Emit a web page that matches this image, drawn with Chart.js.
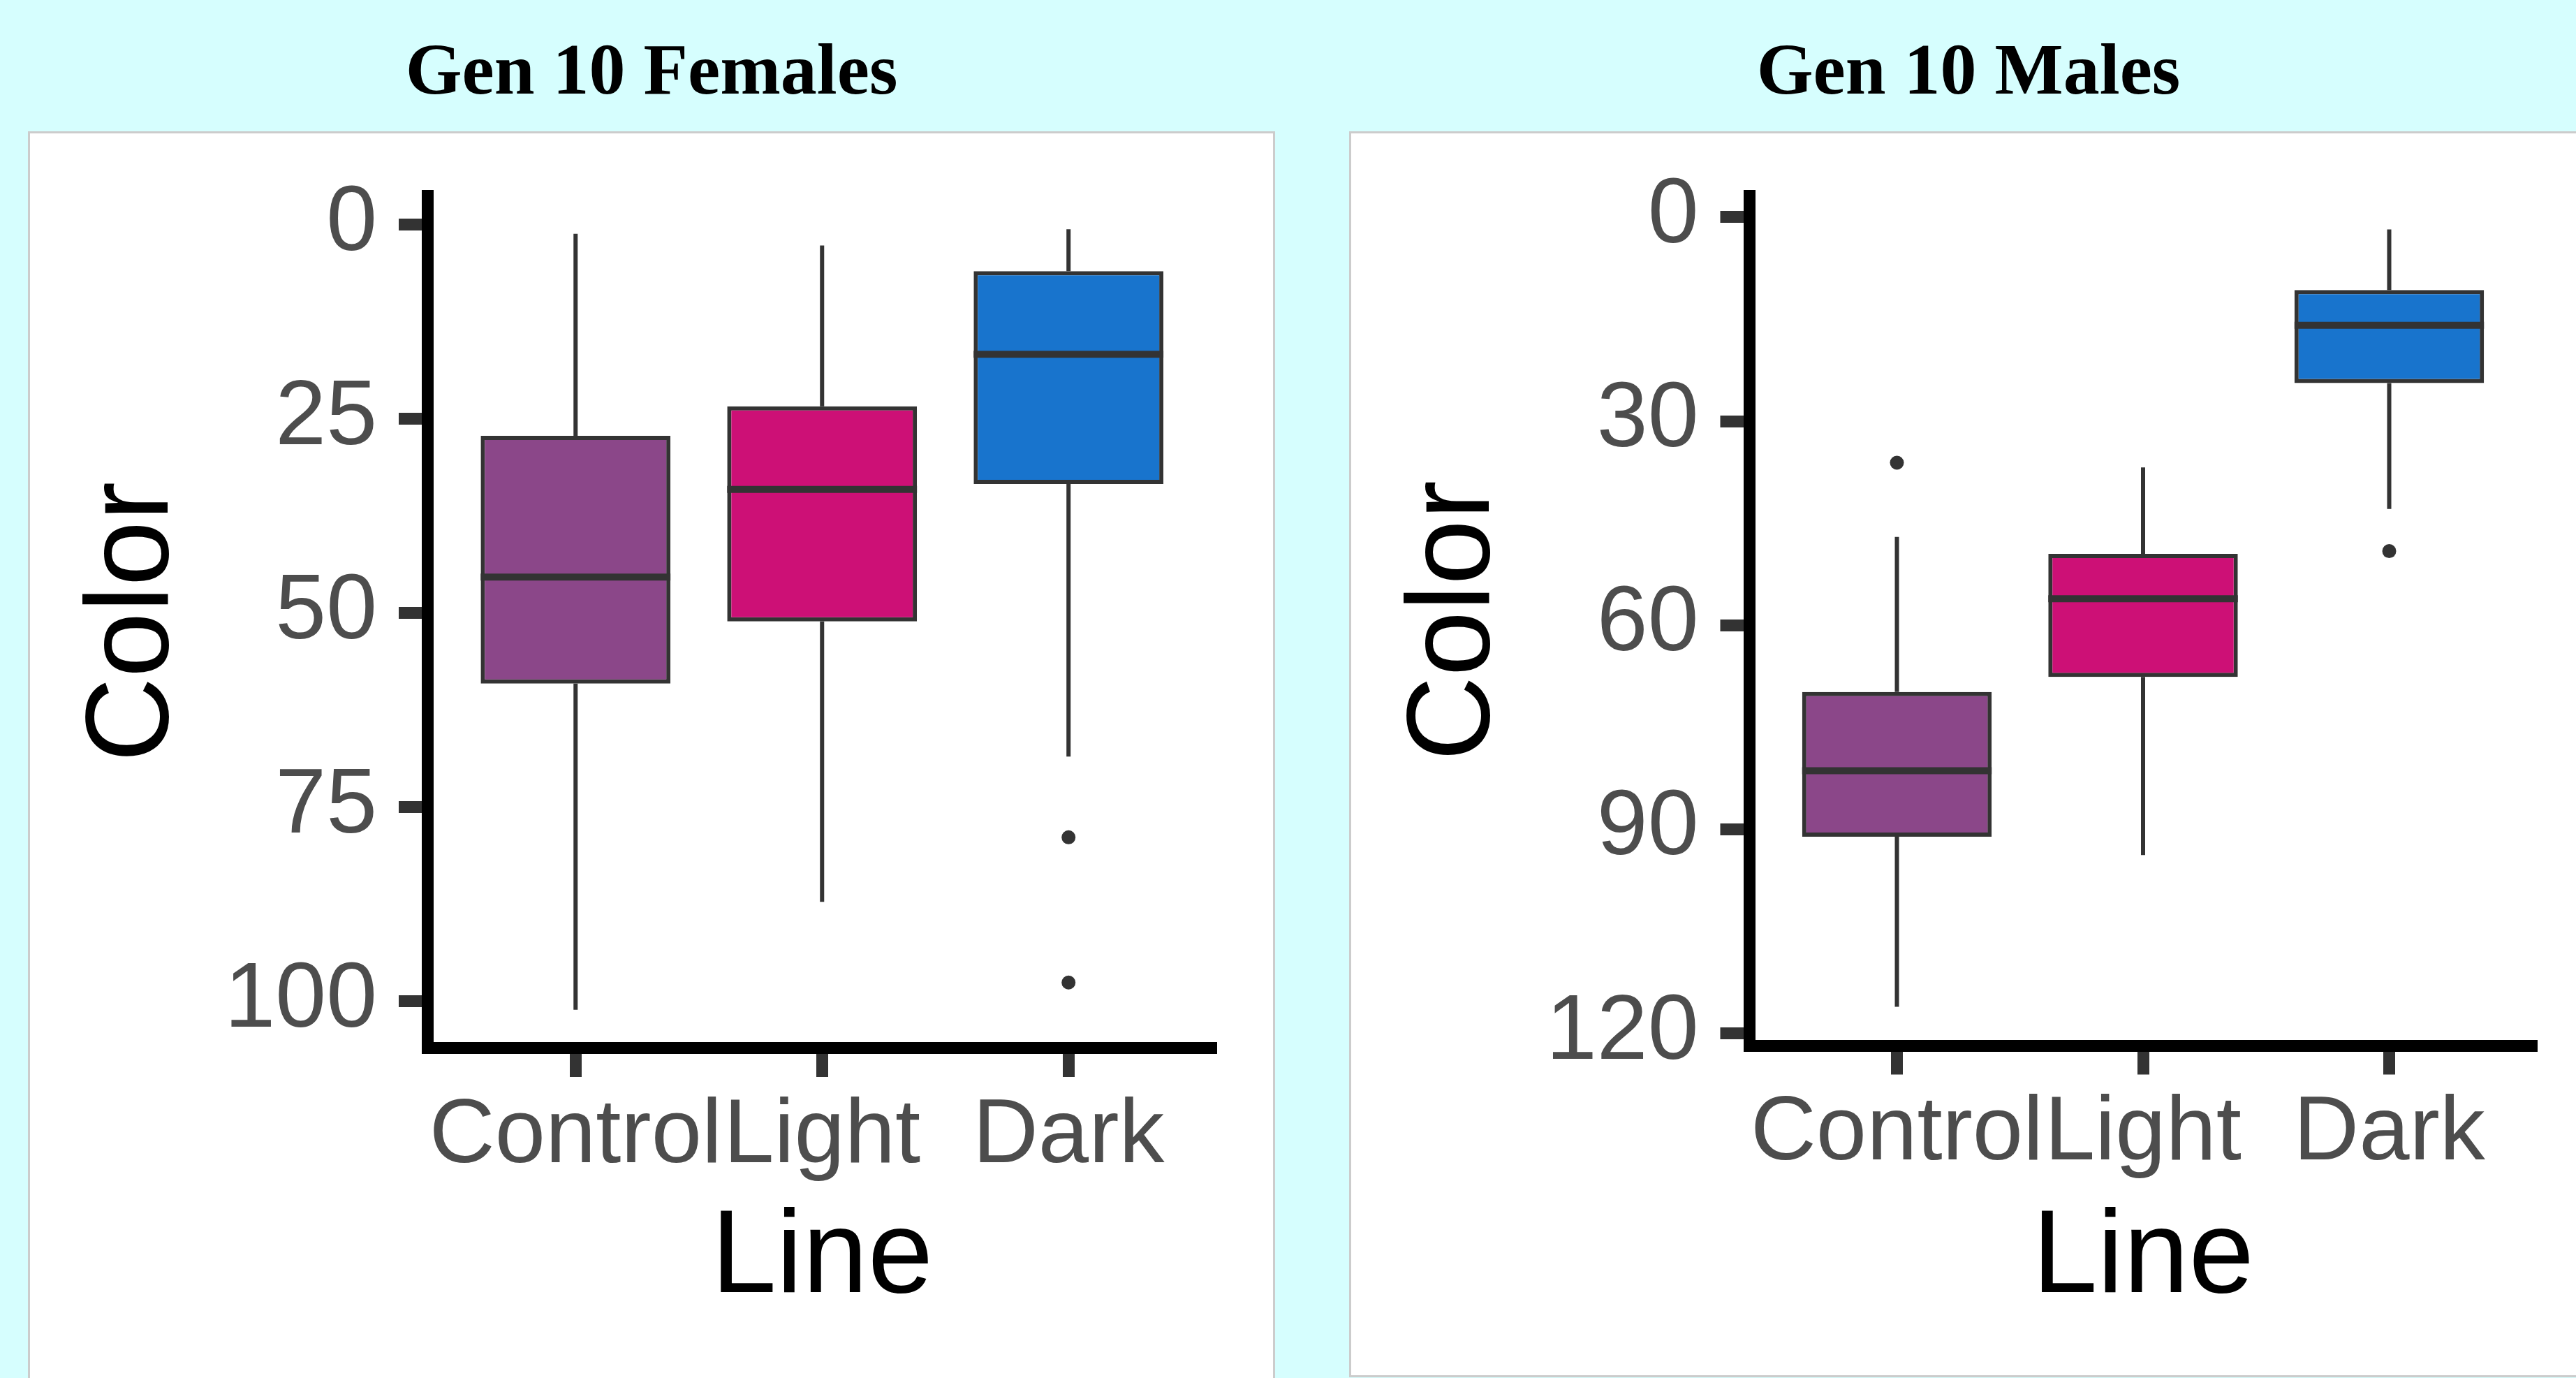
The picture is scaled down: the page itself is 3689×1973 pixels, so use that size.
<!DOCTYPE html>
<html>
<head>
<meta charset="utf-8">
<title>Gen 10 Color by Line</title>
<script src="https://cdn.jsdelivr.net/npm/chart.js@4/dist/chart.umd.min.js"></script>
<style>
    html, body { margin: 0; padding: 0; }
    body { width: 3689px; height: 1973px; background: #d6fefe; position: relative; overflow: hidden; }
    .panel { position: absolute; top: 188px; box-sizing: border-box; border: 3px solid #cccccc; background: #ffffff; }
    #leftPanel { left: 40px; width: 1786px; height: 1830px; }
    #rightPanel { left: 1932px; width: 1800px; height: 1784px; }
    .title { position: absolute; top: 47px; font: bold 104px "Liberation Serif", "Times New Roman", serif; line-height: 1; text-align: center; color: #000000; white-space: nowrap; }
    #leftTitle { left: 40px; width: 1786px; }
    #rightTitle { left: 1932px; width: 1774px; }
    canvas { position: absolute; top: 191px; }
    #femalesChart { left: 43px; }
    #malesChart { left: 1935px; }
</style>
</head>
<body>
<div class="title" id="leftTitle">Gen 10 Females</div>
<div class="title" id="rightTitle">Gen 10 Males</div>
<div class="panel" id="leftPanel"></div>
<div class="panel" id="rightPanel"></div>
<canvas id="femalesChart" width="1780" height="1782"></canvas>
<canvas id="malesChart" width="1754" height="1782"></canvas>
<script>
const lines = ['Control', 'Light', 'Dark'];
const boxColors = ['#8B4789', '#CD1076', '#1874CD'];

// Gen 10 females (Color, axis reversed)
const femaleLow = [1.2, 2.7, 0.6];
const femaleQ1 = [27.2, 23.4, 6.0];
const femaleMedian = [45.4, 34.1, 16.7];
const femaleQ3 = [59.1, 51.1, 33.4];
const femaleHigh = [101.1, 87.2, 68.5];
const femaleOutlierLine = ['Dark', 'Dark'];
const femaleOutlierValue = [78.9, 97.6];
const femaleTicks = [0, 25, 50, 75, 100];

// Gen 10 males
const maleLow = [47.0, 36.8, 1.8];
const maleQ1 = [69.8, 49.5, 10.7];
const maleMedian = [81.4, 56.1, 15.9];
const maleQ3 = [91.1, 67.6, 24.4];
const maleHigh = [116.1, 93.8, 42.9];
const maleOutlierLine = ['Control', 'Dark'];
const maleOutlierValue = [36.1, 49.1];
const maleTicks = [0, 30, 60, 90, 120];

function boxPlugin(stats) {
    return {
        id: 'boxWhiskers',
        beforeDatasetsDraw(chart) {
            const {ctx, scales: {x, y}} = chart;
            ctx.save();
            ctx.strokeStyle = '#333333';
            ctx.lineWidth = 6;
            ctx.lineCap = 'butt';
            stats.q1.forEach((q1, i) => {
                const px = x.getPixelForValue(i + 1);
                ctx.beginPath();
                ctx.moveTo(px, y.getPixelForValue(stats.low[i]));
                ctx.lineTo(px, y.getPixelForValue(q1));
                ctx.moveTo(px, y.getPixelForValue(stats.q3[i]));
                ctx.lineTo(px, y.getPixelForValue(stats.high[i]));
                ctx.stroke();
            });
            ctx.restore();
        },
        afterDatasetsDraw(chart) {
            const {ctx, scales: {y}} = chart;
            const bars = chart.getDatasetMeta(0).data;
            ctx.save();
            ctx.strokeStyle = '#333333';
            ctx.lineWidth = 10;
            stats.median.forEach((m, i) => {
                const {x: bx, width} = bars[i].getProps(['x', 'width'], true);
                const py = y.getPixelForValue(m);
                ctx.beginPath();
                ctx.moveTo(bx - width / 2, py);
                ctx.lineTo(bx + width / 2, py);
                ctx.stroke();
            });
            ctx.restore();
        }
    };
}

function renderBoxChart(elementId, stats, outlierLine, outlierValue, ticks, yMin, yMax, yWidth, xHeight, padRight) {
    const ctx = document.getElementById(elementId).getContext('2d');
    const family = "'Liberation Sans', Arial, sans-serif";
    new Chart(ctx, {
        type: 'bar',
        data: {
            datasets: [{
                type: 'bar',
                data: lines.map((l, i) => ({x: i + 1, y: [stats.q1[i], stats.q3[i]]})),
                backgroundColor: boxColors,
                borderColor: '#333333',
                borderWidth: 6,
                borderSkipped: false,
                barPercentage: 0.77,
                categoryPercentage: 1
            }, {
                type: 'scatter',
                data: outlierLine.map((l, i) => ({x: lines.indexOf(l) + 1, y: outlierValue[i]})),
                backgroundColor: '#333333',
                borderWidth: 0,
                pointRadius: 10
            }]
        },
        options: {
            responsive: false,
            animation: false,
            devicePixelRatio: 1,
            events: [],
            layout: {padding: {top: 89.5, right: padRight, left: 0, bottom: 0}},
            plugins: {
                legend: {display: false},
                tooltip: {enabled: false}
            },
            scales: {
                x: {
                    type: 'linear',
                    min: 0.4,
                    max: 3.6,
                    offset: false,
                    afterFit: scale => { scale.height = xHeight; },
                    afterBuildTicks: scale => { scale.ticks = lines.map((l, i) => ({value: i + 1})); },
                    grid: {display: true, offset: false, drawOnChartArea: false, drawTicks: true, tickLength: 41.5, tickWidth: 17, tickColor: '#333333'},
                    border: {display: true, color: '#000000', width: 17},
                    ticks: {
                        autoSkip: false,
                        maxRotation: 0,
                        minRotation: 0,
                        padding: 8,
                        color: '#4D4D4D',
                        font: {family: family, size: 130},
                        callback: value => lines[value - 1]
                    },
                    title: {display: true, text: 'Line', color: '#000000', font: {family: family, size: 168}, padding: {top: 0, bottom: 69}}
                },
                y: {
                    type: 'linear',
                    reverse: true,
                    min: yMin,
                    max: yMax,
                    afterFit: scale => { scale.width = yWidth; },
                    afterBuildTicks: scale => { scale.ticks = ticks.map(v => ({value: v})); },
                    grid: {display: true, drawOnChartArea: false, drawTicks: true, tickLength: 41.5, tickWidth: 17, tickColor: '#333333'},
                    border: {display: true, color: '#000000', width: 17},
                    ticks: {padding: 31, color: '#4D4D4D', font: {family: family, size: 131, lineHeight: 0.8}},
                    title: {display: true, text: 'Color', color: '#000000', font: {family: family, size: 168}, padding: {top: 50, bottom: 0}}
                }
            }
        },
        plugins: [boxPlugin(stats)]
    });
}

renderBoxChart('femalesChart',
    {low: femaleLow, q1: femaleQ1, median: femaleMedian, q3: femaleQ3, high: femaleHigh},
    femaleOutlierLine, femaleOutlierValue, femaleTicks, -3.69, 106.03, 569.5, 472.5, 81);
renderBoxChart('malesChart',
    {low: maleLow, q1: maleQ1, median: maleMedian, q3: maleQ3, high: maleHigh},
    maleOutlierLine, maleOutlierValue, maleTicks, -3.13, 121.8, 570, 476, 56);
</script>
</body>
</html>
